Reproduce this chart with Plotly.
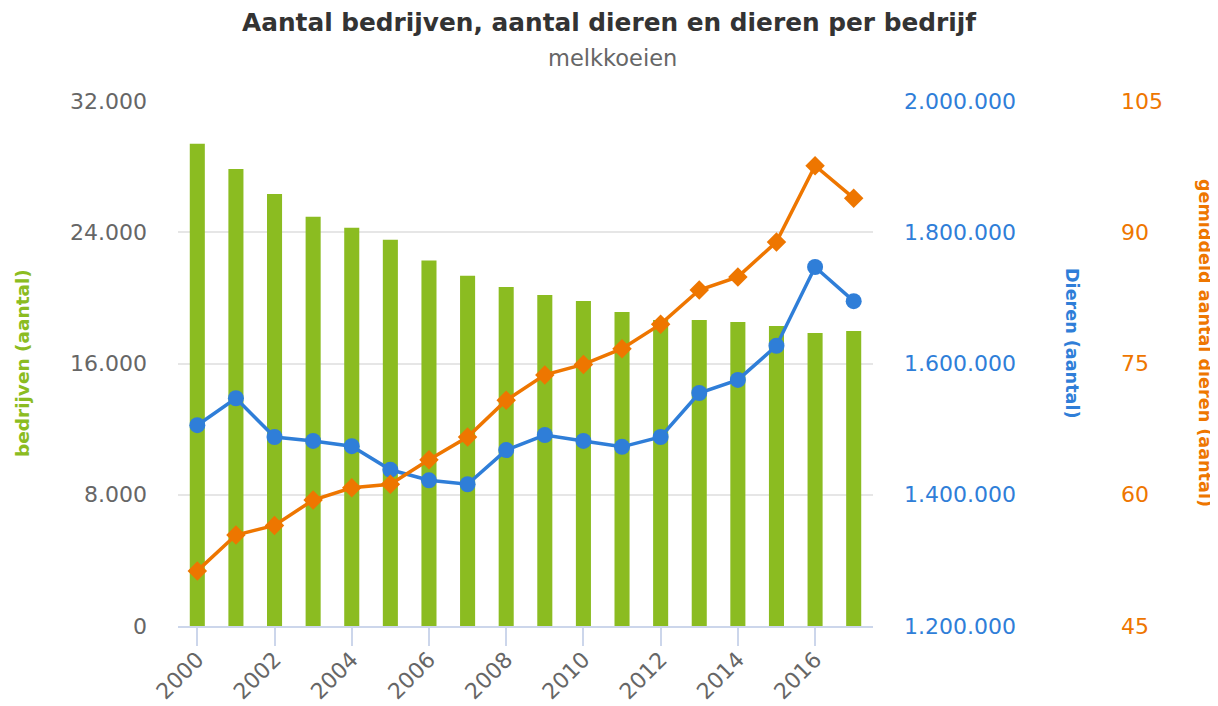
import plotly.graph_objects as go

years = list(range(2000, 2018))
bedrijven = [29400, 27850, 26330, 24950, 24280, 23550, 22280, 21350, 20670, 20180, 19810, 19140, 18650, 18650, 18530, 18290, 17860, 17980]
dieren = [1506000, 1547000, 1488000, 1482000, 1474000, 1438000, 1422000, 1416000, 1468000, 1491000, 1482000, 1473000, 1488000, 1555000, 1575000, 1627000, 1747000, 1695000]
per_bedrijf = [51.3, 55.4, 56.5, 59.4, 60.8, 61.2, 64.0, 66.6, 70.8, 73.7, 74.9, 76.7, 79.5, 83.4, 84.9, 88.9, 97.6, 93.9]

GREEN = "#8bbc21"
BLUE = "#2f7ed8"
ORANGE = "#ee7600"
GRAY = "#666666"
FONT = "Verdana, DejaVu Sans, sans-serif"

# page body has an 8px default margin: size the figure to fill the rest
OFF = 8
W, H = 1218 - OFF, 706 - OFF


def px(x):
    return (x - OFF) / W


def py(y):
    return 1 - (y - OFF) / H


x0, x1 = 178, 873
ytop, ybot = 101, 626

fig = go.Figure()
fig.add_trace(go.Bar(x=years, y=bedrijven, marker=dict(color=GREEN, line=dict(width=0)),
                     width=0.39, yaxis="y", name="bedrijven"))
fig.add_trace(go.Scatter(x=years, y=dieren, mode="lines+markers", yaxis="y2",
                         line=dict(color=BLUE, width=3.5),
                         marker=dict(symbol="circle", size=16, color=BLUE), name="dieren"))
fig.add_trace(go.Scatter(x=years, y=per_bedrijf, mode="lines+markers", yaxis="y3",
                         line=dict(color=ORANGE, width=3.5),
                         marker=dict(symbol="diamond", size=15, color=ORANGE), name="per bedrijf"))

dom_y = [py(ybot), py(ytop)]
fig.update_layout(
    width=W, height=H,
    autosize=False,
    margin=dict(l=0, r=0, t=0, b=0, pad=0),
    paper_bgcolor="white", plot_bgcolor="white",
    separators=",.",
    showlegend=False,
    font=dict(family=FONT, color=GRAY, size=22),
    xaxis=dict(domain=[px(x0), px(x1)], range=[1999.5, 2017.5], tickmode="linear", tick0=2000, dtick=2,
               tickangle=-45, tickformat="d", showgrid=False, zeroline=False, automargin=False,
               showline=True, linecolor="#ccd6eb", linewidth=2,
               ticks="outside", ticklen=18, tickwidth=2, tickcolor="#ccd6eb",
               ticklabelstandoff=-8,
               tickfont=dict(size=22, color=GRAY)),
    yaxis=dict(domain=dom_y, range=[0, 32000], tickmode="linear", tick0=0, dtick=8000, automargin=False,
               tickformat=",d", showgrid=True, gridcolor="#e6e6e6", gridwidth=2, zeroline=False,
               ticklabelstandoff=30, tickfont=dict(size=22, color=GRAY)),
    yaxis2=dict(domain=dom_y, overlaying="y", side="right", anchor="x", automargin=False,
                range=[1200000, 2000000], tickmode="linear", tick0=1200000, dtick=200000,
                tickformat=",d", showgrid=False, zeroline=False,
                ticklabelstandoff=30, tickfont=dict(size=22, color=BLUE)),
    yaxis3=dict(domain=dom_y, overlaying="y", side="right", anchor="free", position=px(1100), automargin=False,
                range=[45, 105], tickmode="linear", tick0=45, dtick=15,
                tickformat="d", showgrid=False, zeroline=False,
                ticklabelstandoff=20, tickfont=dict(size=22, color=ORANGE)),
    annotations=[
        dict(text="<b>Aantal bedrijven, aantal dieren en dieren per bedrijf</b>", x=px(609), y=py(22.5),
             xanchor="center", yanchor="middle",
             xref="paper", yref="paper", showarrow=False, font=dict(size=24.8, color="#333333", family=FONT)),
        dict(text="melkkoeien", x=px(612), y=py(58), xanchor="center", yanchor="middle",
             xref="paper", yref="paper", showarrow=False,
             font=dict(size=22.5, color=GRAY, family=FONT)),
        dict(text="<b>bedrijven (aantal)</b>", x=px(22), y=py(363), xanchor="center", yanchor="middle",
             xref="paper", yref="paper",
             showarrow=False, textangle=-90, font=dict(size=18.5, color=GREEN, family=FONT)),
        dict(text="<b>Dieren (aantal)</b>", x=px(1072), y=py(343), xanchor="center", yanchor="middle",
             xref="paper", yref="paper",
             showarrow=False, textangle=90, font=dict(size=17.6, color=BLUE, family=FONT)),
        dict(text="<b>gemiddeld aantal dieren (aantal)</b>", x=px(1205), y=py(343), xanchor="center",
             yanchor="middle", xref="paper", yref="paper",
             showarrow=False, textangle=90, font=dict(size=17.6, color=ORANGE, family=FONT)),
    ],
)

fig.write_html("out.html")
